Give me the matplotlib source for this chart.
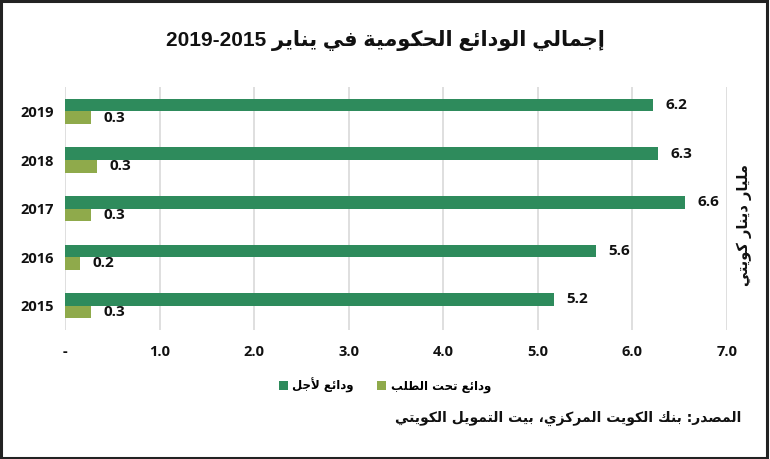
import re
import matplotlib
matplotlib.use("Agg")
import matplotlib.pyplot as plt
from matplotlib.patches import Rectangle
from matplotlib.ticker import FixedLocator

# ---------------- data ----------------
years = ["2015", "2016", "2017", "2018", "2019"]
term_deposits = [5.17, 5.61, 6.56, 6.27, 6.22]      # ودائع لأجل
demand_deposits = [0.27, 0.16, 0.27, 0.34, 0.28]    # ودائع تحت الطلب
x_ticks = [0, 1, 2, 3, 4, 5, 6, 7]
x_tick_labels = ["-", "1.0", "2.0", "3.0", "4.0", "5.0", "6.0", "7.0"]
title_text = "إجمالي الودائع الحكومية في يناير 2015-2019"
series_names = ["ودائع لأجل", "ودائع تحت الطلب"]
unit_text = "مليار دينار كويتي"
source_text = "المصدر: بنك الكويت المركزي، بيت التمويل الكويتي"

# ------------- minimal Arabic shaping (presentation forms + RTL order) -------------
DUAL = set("ئبتثجحخسشصضطظعغفقكلمنهي")
RIGHT = set("آأؤإاةدذرزوى")
BASE = {'ء': 0xFE80, 'آ': 0xFE81, 'أ': 0xFE83, 'ؤ': 0xFE85, 'إ': 0xFE87, 'ئ': 0xFE89,
        'ا': 0xFE8D, 'ب': 0xFE8F, 'ة': 0xFE93, 'ت': 0xFE95, 'ث': 0xFE99, 'ج': 0xFE9D,
        'ح': 0xFEA1, 'خ': 0xFEA5, 'د': 0xFEA9, 'ذ': 0xFEAB, 'ر': 0xFEAD, 'ز': 0xFEAF,
        'س': 0xFEB1, 'ش': 0xFEB5, 'ص': 0xFEB9, 'ض': 0xFEBD, 'ط': 0xFEC1, 'ظ': 0xFEC5,
        'ع': 0xFEC9, 'غ': 0xFECD, 'ف': 0xFED1, 'ق': 0xFED5, 'ك': 0xFED9, 'ل': 0xFEDD,
        'م': 0xFEE1, 'ن': 0xFEE5, 'ه': 0xFEE9, 'و': 0xFEED, 'ى': 0xFEEF, 'ي': 0xFEF1}
LAM_ALEF = {'آ': 0xFEF5, 'أ': 0xFEF7, 'إ': 0xFEF9, 'ا': 0xFEFB}


def _jt(u):
    if u is None:
        return None
    k, c = u
    if k == "LA":
        return "R"
    if c in DUAL:
        return "D"
    if c in RIGHT:
        return "R"
    if c == "ء":
        return "U"
    return None


def ar(s):
    units = []
    i = 0
    while i < len(s):
        c = s[i]
        if c == "ل" and i + 1 < len(s) and s[i + 1] in LAM_ALEF:
            units.append(("LA", s[i + 1]))
            i += 2
            continue
        units.append(("C", c))
        i += 1
    out = []
    for idx, u in enumerate(units):
        prev = units[idx - 1] if idx > 0 else None
        nxt = units[idx + 1] if idx + 1 < len(units) else None
        t = _jt(u)
        pc = _jt(prev) == "D"
        nc = t == "D" and _jt(nxt) in ("D", "R")
        k, c = u
        if k == "LA":
            out.append(chr(LAM_ALEF[c] + (1 if pc else 0)))
        elif t is None or t == "U":
            out.append(c)
        elif t == "R":
            out.append(chr(BASE[c] + (1 if pc else 0)))
        else:
            off = 3 if (pc and nc) else 1 if pc else 2 if nc else 0
            out.append(chr(BASE[c] + off))
    vis = "".join(out)[::-1]
    return re.sub(r"[0-9A-Za-z.]+", lambda m: m.group(0)[::-1], vis)


# ---------------- figure ----------------
DARK = "#2E8B5C"
LIGHT = "#8FAA4B"
NUM_FONT = ["Open Sans", "DejaVu Sans"]
AR_FONT = ["DejaVu Sans"]

fig = plt.figure(figsize=(7.7, 4.59), dpi=100)
ax = fig.add_axes([0.0844, 0.281, 0.8598, 0.529])

pos = list(range(len(years)))
h = 0.26
bars_term = ax.barh([p + h / 2 for p in pos], term_deposits, height=h, color=DARK,
                    label=ar(series_names[0]), zorder=3)
bars_dem = ax.barh([p - h / 2 for p in pos], demand_deposits, height=h, color=LIGHT,
                   label=ar(series_names[1]), zorder=3)

for bars, vals in ((bars_term, term_deposits), (bars_dem, demand_deposits)):
    ax.bar_label(bars, labels=[f"{v:.1f}" for v in vals], padding=9,
                 fontsize=11, fontweight="bold", family=NUM_FONT, color="#111111")

ax.set_xlim(0, 7)
ax.set_ylim(-0.5, len(years) - 0.5)
ax.xaxis.set_major_locator(FixedLocator(x_ticks))
ax.set_xticklabels(x_tick_labels)
ax.set_yticks(pos)
ax.set_yticklabels(years)
for lab in ax.get_xticklabels() + ax.get_yticklabels():
    lab.set_family(NUM_FONT)
    lab.set_fontweight("bold")
    lab.set_fontsize(10.5)
    lab.set_color("#111111")
ax.tick_params(axis="x", length=0, pad=11)
ax.tick_params(axis="y", length=0, pad=8)
ax.grid(axis="x", color="#D9D9D9", linewidth=1.2, zorder=0)
ax.set_axisbelow(True)
for sp in ax.spines.values():
    sp.set_visible(False)

# title
fig.text(0.5, 0.912, ar(title_text), ha="center", va="center", fontsize=15,
         fontweight="bold", family=["Liberation Sans", "DejaVu Sans"], color="#111111")

# unit label (right side, vertical)
fig.text(0.967, 0.51, ar(unit_text), ha="center", va="center", rotation=90,
         fontsize=10.5, fontweight="bold", family=AR_FONT, color="#111111")

# legend
leg = fig.legend(handles=[bars_term, bars_dem], loc="center", bbox_to_anchor=(0.5, 0.161),
                 ncol=2, frameon=False, handlelength=0.75, handleheight=0.75,
                 handletextpad=0.4, columnspacing=2.0,
                 prop={"family": AR_FONT, "weight": "bold", "size": 8.5})

# source
fig.text(0.963, 0.089, ar(source_text), ha="right", va="center", fontsize=10,
         fontweight="bold", family=AR_FONT, color="#111111")

# outer frame
fig.patches.append(Rectangle((0.0015, 0.003), 0.995, 0.995, transform=fig.transFigure,
                             fill=False, edgecolor="#222222", linewidth=2.2))

fig.savefig("out.png", dpi=100)
